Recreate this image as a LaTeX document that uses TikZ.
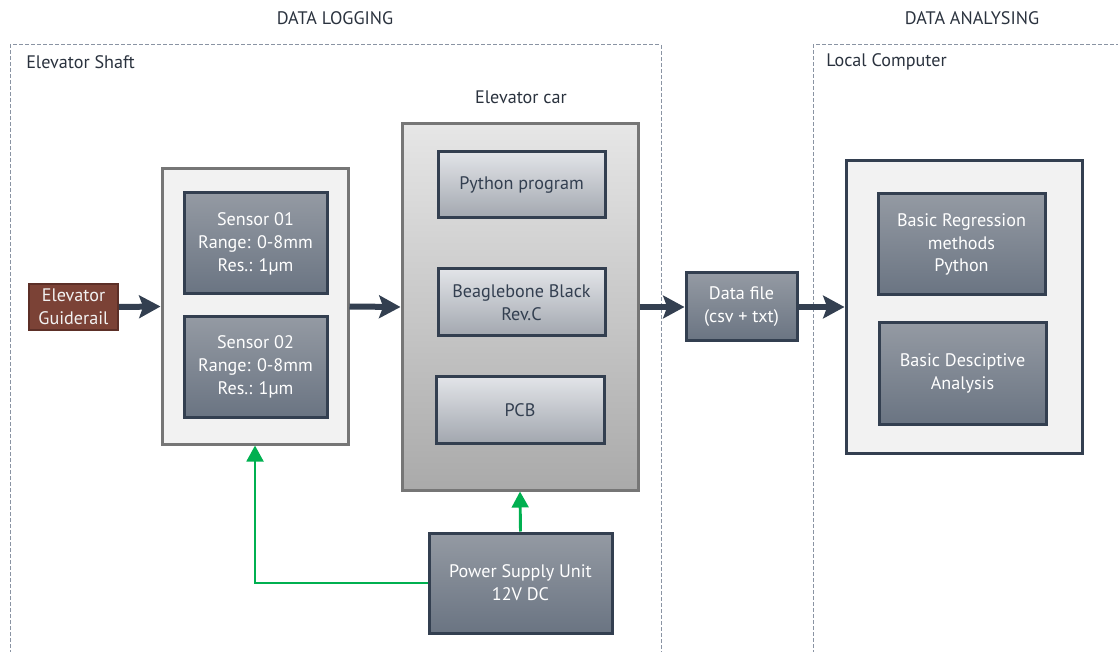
\documentclass[tikz,border=0pt]{standalone}
\usepackage{fontspec}
\setmainfont{PT Sans}
\usetikzlibrary{arrows.meta}
\definecolor{navy}{HTML}{333F50}
\definecolor{ink}{HTML}{2A323E}
\definecolor{darktop}{HTML}{949AA3}
\definecolor{darkbot}{HTML}{6A7482}
\definecolor{lighttop}{HTML}{E2E4E8}
\definecolor{lightbot}{HTML}{A2A7AF}
\definecolor{cartop}{HTML}{E6E6E6}
\definecolor{carbot}{HTML}{AAAAAA}
\definecolor{panel}{HTML}{F2F2F2}
\definecolor{framegray}{HTML}{767676}
\definecolor{dashgray}{HTML}{8A94A3}
\definecolor{rail}{HTML}{7B4236}
\definecolor{railedge}{HTML}{5C2F27}
\definecolor{power}{HTML}{00B050}
\tikzset{
  sz/.style n args={2}{minimum width=#1*0.75pt, minimum height=#2*0.75pt},
  every node/.style={font=\fontsize{13.6}{17.2}\selectfont, align=center, inner sep=0pt},
  darkbox/.style={draw=navy, line width=2.25pt, top color=darktop, bottom color=darkbot, text=white},
  lightbox/.style={draw=navy, line width=2.25pt, top color=lighttop, bottom color=lightbot, text=navy},
  panelbox/.style={draw=framegray, line width=2.25pt, fill=panel},
  railbox/.style={draw=railedge, line width=1.5pt, fill=rail, text=panel},
  zone/.style={draw=dashgray, line width=0.75pt, dash pattern=on 3pt off 1.5pt},
  caption/.style={text=ink},
  flow/.style={draw=navy, line width=4.5pt, -{Stealth[length=16pt, width=17pt, inset=3pt]}},
  supply/.style={draw=power, line width=2.2pt, -{Triangle[length=12pt, width=12.5pt]}},
}
\begin{document}
\begin{tikzpicture}[x=0.75pt, y=-0.75pt]
\useasboundingbox (0,0) rectangle (1118,652);

% logging and analysis zones (open at the bottom)
\begin{scope}
\clip (0,0) rectangle (1118,652);
\draw[zone] (10,660) -- (10,45) -- (661,45) -- (661,660);
\draw[zone] (813,660) -- (813,45) -- (1130,45);
\end{scope}

\node[caption] (tlog) at (335,18) {DATA LOGGING};
\node[caption] (tana) at (972,18) {DATA ANALYSING};
\node[caption, anchor=west] (tshaft) at (26,62) {Elevator Shaft};
\node[caption, anchor=west] (tpc) at (826,62) {Local Computer};
\node[caption] (tcar) at (521,97) {Elevator car};

% rail
\node[railbox, sz={89}{46}] (rail) at (73.5,307) {Elevator\\Guiderail};

% sensors
\node[panelbox, sz={186}{275}] (sensors) at (255,306.5) {};
\node[darkbox, sz={143}{101}] (s1) at (255.5,243.5) {Sensor 01\\Range: 0-8mm\\Res.: 1µm};
\node[darkbox, sz={143}{100}] (s2) at (255.5,367) {Sensor 02\\Range: 0-8mm\\Res.: 1µm};

% elevator car
\node[draw=framegray, line width=2.25pt, top color=cartop, bottom color=carbot, sz={236}{366}] (car) at (520,307) {};
\node[lightbox, sz={167}{66}] (py) at (521.5,185) {Python program};
\node[lightbox, sz={167}{67}] (bbb) at (521.5,302.5) {Beaglebone Black\\Rev.C};
\node[lightbox, sz={168}{66}] (pcb) at (520,410) {PCB};

% data file
\node[darkbox, sz={111}{68}] (file) at (741.5,307) {Data file\\(csv + txt)};

% analysis
\node[draw=navy, line width=2.25pt, fill=panel, sz={236}{292}] (pc) at (964,307) {};
\node[darkbox, sz={167}{101}] (reg) at (961.5,244.5) {Basic Regression\\methods\\Python};
\node[darkbox, sz={167}{101}] (desc) at (962.5,373.5) {Basic Desciptive\\Analysis};

% power supply
\node[darkbox, sz={183}{100}] (psu) at (520.5,583) {Power Supply Unit\\12V DC};

% data flow
\draw[flow] (rail.east) -- (sensors.west);
\draw[flow] (sensors.east) -- (car.west);
\draw[flow] (car.east) -- (file.west);
\draw[flow] (file.east) -- (pc.west);

% power lines
\draw[supply] (psu.north) -- (car.south);
\draw[supply] (psu.west) -| (sensors.south);
\end{tikzpicture}
\end{document}
